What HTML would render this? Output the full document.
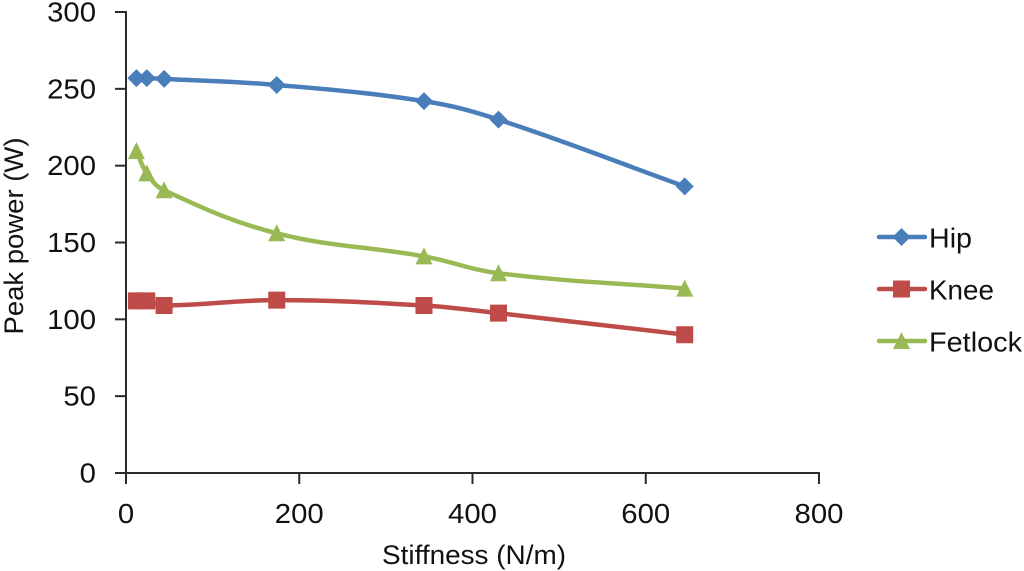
<!DOCTYPE html>
<html>
<head>
<meta charset="utf-8">
<style>
html,body{margin:0;padding:0;background:#fff;width:1024px;height:571px;overflow:hidden}
svg{display:block}
text{font-family:"Liberation Sans",sans-serif;fill:#111}
</style>
</head>
<body>
<svg id="chart" width="1024" height="571" viewBox="0 0 1024 571" xmlns="http://www.w3.org/2000/svg"></svg>
<script>
var stiffness = [12, 24, 44, 174, 344, 430, 645];
var hipValues = [257, 257, 256.5, 252.5, 242, 230, 186.5];
var kneeValues = [112, 112, 109, 112.5, 109, 104, 90];
var fetlockValues = [209.5, 195, 184, 156, 141, 130, 120];
var xTickValues = [0, 200, 400, 600, 800];
var yTickValues = [0, 50, 100, 150, 200, 250, 300];
var seriesNames = ['Hip', 'Knee', 'Fetlock'];

var NS = 'http://www.w3.org/2000/svg';
var svg = document.getElementById('chart');
var colors = {Hip: '#4a7ebb', Knee: '#be4b48', Fetlock: '#98b954'};
var shapes = {Hip: 'diamond', Knee: 'square', Fetlock: 'triangle'};
var seriesData = {Hip: hipValues, Knee: kneeValues, Fetlock: fetlockValues};
var fontSize = 28;

function xScale(v) { return 126 + v * (819 - 126) / 800; }
function yScale(v) { return 473 - v * (473 - 12) / 300; }

function make(tag, attrs, parent) {
  var el = document.createElementNS(NS, tag);
  for (var k in attrs) el.setAttribute(k, attrs[k]);
  (parent || svg).appendChild(el);
  return el;
}

function drawLine(x1, y1, x2, y2, name) {
  var l = make('line', {x1: x1, y1: y1, x2: x2, y2: y2, stroke: '#2b2b2b', 'stroke-width': 2});
  
  
}

function markerPath(shape, cx, cy) {
  if (shape === 'diamond') {
    return 'M' + (cx - 9) + ' ' + cy + 'L' + cx + ' ' + (cy - 9) + 'L' + (cx + 9) + ' ' + cy + 'L' + cx + ' ' + (cy + 9) + 'Z';
  }
  if (shape === 'square') {
    return 'M' + (cx - 8.5) + ' ' + (cy - 8.5) + 'h17v17h-17Z';
  }
  return 'M' + cx + ' ' + (cy - 9) + 'L' + (cx + 8.5) + ' ' + (cy + 8) + 'L' + (cx - 8.5) + ' ' + (cy + 8) + 'Z';
}

function dist(a, b) { return Math.sqrt((a[0] - b[0]) * (a[0] - b[0]) + (a[1] - b[1]) * (a[1] - b[1])); }

function controlPoint(prev, cur, next, segLen) {
  var span = dist(prev, next) || 1;
  var k = 0.38 * segLen / span;
  return [cur[0] + (next[0] - prev[0]) * k, cur[1] + (next[1] - prev[1]) * k];
}

function smoothPath(pts) {
  var d = 'M' + pts[0][0] + ' ' + pts[0][1];
  for (var i = 0; i < pts.length - 1; i++) {
    var p0 = pts[Math.max(i - 1, 0)], p1 = pts[i], p2 = pts[i + 1], p3 = pts[Math.min(i + 2, pts.length - 1)];
    var len = dist(p1, p2);
    var c1 = controlPoint(p0, p1, p2, len);
    var c2 = controlPoint(p3, p2, p1, len);
    d += 'C' + c1[0] + ' ' + c1[1] + ' ' + c2[0] + ' ' + c2[1] + ' ' + p2[0] + ' ' + p2[1];
  }
  return d;
}

// axes
drawLine(126, yScale(300) - 1, 126, 484, 'y-axis-line');
drawLine(115, yScale(0), xScale(800) + 1, yScale(0), 'x-axis-line');

yTickValues.forEach(function (v) {
  var y = yScale(v);
  drawLine(115, y, 126, y, 'y-tick');
  var str = String(v);
  var t = make('text', {x: 96, y: y + 9.5, 'text-anchor': 'end', 'font-size': fontSize, textLength: str.length * 16.3, lengthAdjust: 'spacingAndGlyphs'});
  t.textContent = str;
  
  
});

xTickValues.forEach(function (v) {
  var x = xScale(v);
  drawLine(x, 473, x, 484, 'x-tick');
  var str = String(v);
  var t = make('text', {x: x, y: 523, 'text-anchor': 'middle', 'font-size': fontSize, textLength: str.length * 16.3, lengthAdjust: 'spacingAndGlyphs'});
  t.textContent = str;
  
  
});

// axis titles
var xTitle = make('text', {x: 474, y: 564, 'text-anchor': 'middle', 'font-size': 27, textLength: 184, lengthAdjust: 'spacingAndGlyphs'});
xTitle.textContent = 'Stiffness (N/m)';



var yTitle = make('text', {transform: 'translate(23,236) rotate(-90)', 'text-anchor': 'middle', 'font-size': 27, textLength: 197, lengthAdjust: 'spacingAndGlyphs'});
yTitle.textContent = 'Peak power (W)';



// series
['Knee', 'Fetlock', 'Hip'].forEach(function (name) {
  var vals = seriesData[name];
  var pts = stiffness.map(function (s, i) { return [xScale(s), yScale(vals[i])]; });
  var g = make('g', {});
  
  
  var line = make('path', {d: smoothPath(pts), fill: 'none', stroke: colors[name], 'stroke-width': 4.5, 'stroke-linecap': 'round'}, g);
  
  
  pts.forEach(function (p) {
    var m = make('path', {d: markerPath(shapes[name], p[0], p[1]), fill: colors[name]}, g);
    
    
  });
});

// legend
var legendWidths = {Hip: 43, Knee: 65, Fetlock: 93};
seriesNames.forEach(function (name, i) {
  var y = 237 + i * 52;
  var g = make('g', {});
  
  
  make('line', {x1: 879, y1: y, x2: 925, y2: y, stroke: colors[name], 'stroke-width': 4.5, 'stroke-linecap': 'round'}, g);
  make('path', {d: markerPath(shapes[name], 901.5, y), fill: colors[name]}, g);
  var t = make('text', {x: 929, y: y + 10.5, 'font-size': fontSize, textLength: legendWidths[name], lengthAdjust: 'spacingAndGlyphs'}, g);
  t.textContent = name;
  
  
});
</script>
</body>
</html>
